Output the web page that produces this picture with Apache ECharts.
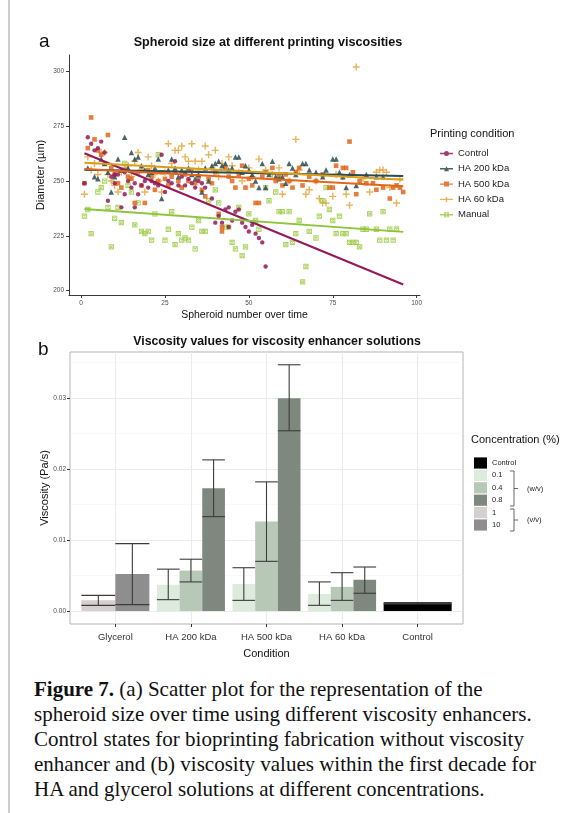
<!DOCTYPE html>
<html>
<head>
<meta charset="utf-8">
<script src="https://cdn.jsdelivr.net/npm/echarts@6.0.0/dist/echarts.min.js"></script>
<style>
  html, body { margin: 0; padding: 0; background: #fff; }
  body { width: 564px; height: 813px; position: relative; overflow: hidden; }
  .edge { position: absolute; left: 8px; top: 0; width: 2px; height: 813px; background: #cdcdcd; }
  #chart { position: absolute; left: 0; top: 0; width: 564px; height: 665px; }
  .caption {
    position: absolute; left: 34px; top: 677px; width: 528px;
    font-family: "Liberation Serif", "DejaVu Serif", serif;
    font-size: 21px; line-height: 25px; color: #111; white-space: nowrap;
  }
</style>
</head>
<body>
<div class="edge"></div>
<div id="chart"></div>
<div class="caption"><b>Figure 7.</b> (a) Scatter plot for the representation of the<br>spheroid size over time using different viscosity enhancers.<br>Control states for bioprinting fabrication without viscosity<br>enhancer and (b) viscosity values within the first decade for<br>HA and glycerol solutions at different concentrations.</div>
<script>
// ---- panel a: spheroid diameter (µm) vs spheroid number ----
const controlPts = [[1,249],[2,270],[3,267],[4,264],[5,265],[6,268],[7,263],[8,241],[9,252],[10,253],[10,249],[11,253],[12,238],[13,254],[13,244],[14,250],[15,247],[16,249],[16,238],[17,244],[18,248],[19,250],[20,247],[21,250],[22,249],[23,248],[24,262],[25,245],[26,250],[27,249],[28,259],[29,248],[30,252],[31,248],[32,251],[33,249],[34,247],[35,250],[36,249],[37,247],[39,242],[40,231],[41,234],[42,231],[43,237],[44,238],[44,229],[45,232],[46,236],[47,237],[48,231],[49,229],[50,227],[51,230],[52,226],[53,224],[54,222],[55,211]]
const ha200Pts = [[2,256],[4,252],[5,251],[6,260],[7,258],[8,254],[9,245],[10,252],[11,260],[12,255],[13,270],[14,256],[15,263],[16,260],[17,261],[18,257],[19,255],[20,253],[21,254],[22,256],[23,260],[24,242],[26,255],[27,260],[28,256],[29,252],[30,255],[31,254],[32,256],[33,253],[34,251],[35,253],[36,245],[37,256],[38,250],[39,257],[40,258],[41,259],[42,257],[43,258],[44,255],[45,256],[46,261],[47,261],[48,254],[49,257],[50,255],[51,253],[52,250],[53,247],[54,258],[55,247],[56,253],[57,259],[58,252],[59,251],[60,252],[61,249],[62,258],[63,256],[64,253],[66,258],[67,258],[68,255],[70,254],[72,252],[73,255],[75,260],[76,260],[77,254],[78,252],[79,247],[80,253],[82,248],[85,253],[88,252],[90,252]]
const ha500Pts = [[1,249],[2,265],[3,279],[4,269],[5,264],[6,262],[7,258],[8,271],[9,256],[10,253],[11,249],[12,247],[13,255],[14,252],[15,251],[16,240],[17,254],[18,248],[19,240],[20,255],[21,252],[22,246],[23,250],[24,254],[25,251],[26,248],[27,252],[28,254],[29,250],[30,247],[31,253],[32,250],[33,255],[34,249],[35,252],[36,246],[37,243],[38,251],[39,249],[40,254],[41,235],[42,227],[42,229],[43,256],[44,252],[45,250],[46,247],[47,253],[48,257],[49,247],[50,251],[51,248],[52,240],[53,240],[54,252],[55,254],[57,256],[58,250],[59,252],[60,248],[61,253],[62,250],[63,247],[64,254],[65,256],[66,248],[68,252],[70,250],[72,253],[74,247],[75,247],[76,257],[78,256],[79,256],[80,268],[81,254],[82,244],[83,250],[85,249],[87,249],[88,246],[90,247],[92,242],[93,247],[94,248],[95,247],[96,245]]
const ha60Pts = [[1,244],[2,261],[3,255],[4,258],[5,253],[6,263],[7,263],[8,253],[9,250],[10,248],[11,245],[12,254],[13,256],[14,257],[15,252],[16,259],[17,263],[18,255],[19,245],[20,261],[21,257],[22,253],[23,250],[24,245],[25,254],[26,267],[27,258],[28,264],[29,264],[30,266],[31,261],[32,259],[33,267],[34,259],[35,255],[36,259],[37,266],[38,262],[39,256],[40,264],[41,252],[42,258],[44,261],[45,257],[47,254],[48,250],[50,256],[51,252],[53,260],[55,255],[57,253],[59,256],[60,244],[62,250],[64,269],[65,255],[67,244],[68,246],[70,250],[71,242],[72,240],[73,240],[75,243],[76,253],[78,252],[79,244],[80,239],[82,302],[84,251],[86,245],[88,254],[89,255],[90,255],[91,254],[92,247],[94,240],[95,251]]
const manualPts = [[1,234],[2,237],[3,226],[5,245],[6,247],[7,250],[8,238],[9,220],[10,233],[11,238],[12,231],[13,258],[14,248],[15,245],[16,230],[17,240],[18,227],[19,226],[20,227],[21,223],[22,235],[23,262],[25,223],[26,228],[27,236],[28,221],[29,226],[30,223],[31,224],[32,223],[33,229],[34,219],[35,232],[36,227],[37,227],[38,241],[40,246],[41,240],[43,229],[44,229],[45,222],[46,219],[47,238],[48,216],[49,220],[50,235],[52,232],[53,228],[55,247],[56,241],[58,245],[59,236],[60,236],[61,221],[62,236],[63,222],[64,226],[65,232],[66,204],[67,211],[68,227],[70,224],[71,234],[72,241],[73,247],[74,237],[75,232],[76,226],[77,234],[78,226],[79,226],[80,222],[81,222],[82,222],[83,220],[84,228],[85,228],[86,235],[88,228],[89,223],[90,236],[91,223],[92,228],[93,223],[94,228]]

// fitted trend lines: values at the first and last spheroid
const fitX = [1, 96]
const fitControl = [262.7, 202.8]
const fitHA200 = [255.2, 252.3]
const fitHA500 = [255.5, 247.6]
const fitHA60 = [258.3, 250.6]
const fitManual = [237.2, 226.8]

const xTicksA = [0, 25, 50, 75, 100]
const yTicksA = [200, 225, 250, 275, 300]

// ---- panel b: viscosity (Pa/s), [condition, mean, lower, upper] ----
const conditions = ['Glycerol', 'HA 200 kDa', 'HA 500 kDa', 'HA 60 kDa', 'Control']
const conc01 = [['HA 200 kDa', 0.0037, 0.0016, 0.0059], ['HA 500 kDa', 0.0038, 0.0015, 0.0061], ['HA 60 kDa', 0.0024, 0.0008, 0.0041]]
const conc04 = [['HA 200 kDa', 0.0057, 0.0041, 0.0073], ['HA 500 kDa', 0.0126, 0.0070, 0.0182], ['HA 60 kDa', 0.0034, 0.0015, 0.0054]]
const conc08 = [['HA 200 kDa', 0.0173, 0.0133, 0.0213], ['HA 500 kDa', 0.0300, 0.0254, 0.0347], ['HA 60 kDa', 0.0044, 0.0025, 0.0062]]
const glyc1 = [['Glycerol', 0.0015, 0.0008, 0.0022]]
const glyc10 = [['Glycerol', 0.0052, 0.0009, 0.0095]]
const ctrlVisc = [['Control', 0.0011, 0.0010, 0.0012]]
const yTicksB = [0, 0.01, 0.02, 0.03]
const yMinorB = [0.005, 0.015, 0.025, 0.035]

const FONT = '"Liberation Sans", Arial, sans-serif'
const C = {
  control: '#931a5b', ha200: '#2b4b50', ha500: '#e0661c', ha60: '#e3a73c', ha60Line: '#d89e1c',
  manual: '#9ccb45', manualLine: '#8cc43a'
}

const plusPath = 'path://M4,0H6V10H4Z M0,4H10V6H0Z'
const boxXPath = 'path://M0,0H10V10H0Z M1.8,1.8V8.2H8.2V1.8Z M1.8,3.2L3.2,1.8L8.2,6.8L6.8,8.2Z M6.8,1.8L8.2,3.2L3.2,8.2L1.8,6.8Z'
const lineSeg = 'M0,3.6H26V6.4H0Z'
const legendIcons = {
  'Control': 'path://' + lineSeg + ' M8,5A5,5 0 1,1 18,5A5,5 0 1,1 8,5Z',
  'HA 200 kDa': 'path://' + lineSeg + ' M13,0L18,10H8Z',
  'HA 500 kDa': 'path://' + lineSeg + ' M8,0H18V10H8Z',
  'HA 60 kDa': 'path://' + lineSeg + ' M11.6,0H14.4V10H11.6Z',
  'Manual': 'path://' + lineSeg + ' M8,0H18V10H8Z M9.6,1.6V8.4H16.4V1.6Z M9.6,2.8L10.8,1.6L16.4,7.2L15.2,8.4Z M15.2,1.6L16.4,2.8L10.8,8.4L9.6,7.2Z'
}

const pointSeries = (name, data, color, symbol, size) => ({
  name, type: 'scatter', xAxisIndex: 0, yAxisIndex: 0, data,
  symbol, symbolSize: size,
  itemStyle: { color, opacity: 0.85 },
  z: 2, silent: true
})
const fitSeries = (name, vals, color, width) => ({
  name, type: 'line', xAxisIndex: 0, yAxisIndex: 0,
  data: [[fitX[0], vals[0]], [fitX[1], vals[1]]],
  showSymbol: false, symbol: 'none',
  lineStyle: { color, width }, z: 3, silent: true
})

// dodged bar with error bar, drawn through the axes
const barSeries = (name, rows, slot, slots, color) => ({
  name, type: 'custom', xAxisIndex: 1, yAxisIndex: 1,
  data: rows.map(r => [conditions.indexOf(r[0]) + 1, r[1], r[2], r[3]]),
  renderItem: (params, api) => {
    const x = api.value(0)
    const band = api.size([0.9, 0])[0]
    const w = band / slots
    const x0 = api.coord([x, 0])[0] - band / 2 + slot * w
    const base = api.coord([x, 0])[1]
    const top = api.coord([x, api.value(1)])[1]
    const lo = api.coord([x, api.value(2)])[1]
    const hi = api.coord([x, api.value(3)])[1]
    const mid = x0 + w / 2
    const es = { stroke: '#3c3c3c', lineWidth: 1.1 }
    return {
      type: 'group',
      children: [
        { type: 'rect', shape: { x: x0, y: top, width: w, height: base - top }, style: { fill: color } },
        { type: 'line', shape: { x1: mid, y1: lo, x2: mid, y2: hi }, style: es },
        { type: 'line', shape: { x1: x0, y1: lo, x2: x0 + w, y2: lo }, style: es },
        { type: 'line', shape: { x1: x0, y1: hi, x2: x0 + w, y2: hi }, style: es }
      ]
    }
  },
  z: 2, silent: true
})

const legendB = [
  ['Control', '#000000'], ['0.1', '#dcebdb'], ['0.4', '#b8c8b7'], ['0.8', '#7e887f'], ['1', '#d6cfcf'], ['10', '#8e8e8e']
]

const graphics = [
  { type: 'text', left: 39, top: 32, style: { text: 'a', font: '19px ' + FONT, fill: '#111' } },
  { type: 'text', x: 268, y: 43, style: { text: 'Spheroid size at different printing viscosities', font: 'bold 12.6px ' + FONT, fill: '#111', align: 'center', verticalAlign: 'middle' } },
  { type: 'text', x: 430, y: 134, style: { text: 'Printing condition', font: '11px ' + FONT, fill: '#111', verticalAlign: 'middle' } },
  { type: 'text', left: 38, top: 340, style: { text: 'b', font: '19px ' + FONT, fill: '#111' } },
  { type: 'text', x: 277, y: 342, style: { text: 'Viscosity values for viscosity enhancer solutions', font: 'bold 12.3px ' + FONT, fill: '#111', align: 'center', verticalAlign: 'middle' } },
  { type: 'text', x: 471, y: 440, style: { text: 'Concentration (%)', font: '11px ' + FONT, fill: '#111', verticalAlign: 'middle' } }
]
legendB.forEach((d, i) => {
  const cy = 463 + i * 12.4
  graphics.push({ type: 'rect', shape: { x: 474, y: cy - 5.6, width: 13, height: 11.2 }, style: { fill: d[1] } })
  graphics.push({ type: 'text', x: 492, y: cy, style: { text: d[0], font: '7.5px ' + FONT, fill: '#222', verticalAlign: 'middle' } })
})
const bracket = (y1, y2, label) => {
  const ym = (y1 + y2) / 2
  const ls = { stroke: '#444', lineWidth: 0.8 }
  graphics.push({ type: 'polyline', shape: { points: [[510, y1], [514, y1], [514, y2], [510, y2]] }, style: ls })
  graphics.push({ type: 'line', shape: { x1: 514, y1: ym, x2: 518, y2: ym }, style: ls })
  graphics.push({ type: 'text', x: 527, y: ym, style: { text: label, font: '7.5px ' + FONT, fill: '#222', verticalAlign: 'middle' } })
}
bracket(471, 506, '(w/v)')
bracket(509, 531, '(v/v)')

const tickLabel = { fontSize: 6.5, color: '#4d4d4d', fontFamily: FONT }

const option = {
  animation: false,
  textStyle: { fontFamily: FONT },
  grid: [
    { left: 69, top: 55, width: 351, height: 240 },
    { left: 70, top: 352, width: 393, height: 272, show: true, borderColor: '#b3b3b3', borderWidth: 1 }
  ],
  xAxis: [
    {
      type: 'value', gridIndex: 0, min: -3.6, max: 101,
      axisLine: { show: true, onZero: false, lineStyle: { color: '#3a3a3a', width: 1 } },
      axisTick: { show: true, length: 3, customValues: xTicksA, lineStyle: { color: '#3a3a3a' } },
      axisLabel: { customValues: xTicksA, margin: 5, ...tickLabel },
      splitLine: { show: false },
      name: 'Spheroid number over time', nameLocation: 'middle', nameGap: 15,
      nameTextStyle: { fontSize: 10.5, color: '#111' }
    },
    {
      type: 'value', gridIndex: 1, min: 0.4, max: 5.6,
      axisLine: { show: false, onZero: false },
      axisTick: { show: true, length: 3, customValues: [1, 2, 3, 4, 5], lineStyle: { color: '#333' } },
      axisLabel: { customValues: [1, 2, 3, 4, 5], margin: 8, formatter: v => conditions[Math.round(v) - 1], fontSize: 9.5, color: '#333', fontFamily: FONT },
      splitLine: { show: true, lineStyle: { color: '#ebebeb', width: 1 } },
      name: 'Condition', nameLocation: 'middle', nameGap: 24,
      nameTextStyle: { fontSize: 11, color: '#111' }
    }
  ],
  yAxis: [
    {
      type: 'value', gridIndex: 0, min: 198, max: 307.5,
      axisLine: { show: true, onZero: false, lineStyle: { color: '#3a3a3a', width: 1 } },
      axisTick: { show: true, length: 3, customValues: yTicksA, lineStyle: { color: '#3a3a3a' } },
      axisLabel: { customValues: yTicksA, margin: 5, ...tickLabel },
      splitLine: { show: false },
      name: 'Diameter (µm)', nameLocation: 'middle', nameGap: 23, nameMoveOverlap: false,
      nameTextStyle: { fontSize: 11, color: '#111' }
    },
    {
      type: 'value', gridIndex: 1, min: -0.00183, max: 0.0365,
      axisLine: { show: false, onZero: false },
      axisTick: { show: true, length: 3, customValues: yTicksB, lineStyle: { color: '#333' } },
      axisLabel: { customValues: yTicksB, margin: 4, formatter: v => v.toFixed(2), ...tickLabel },
      splitLine: { show: true, lineStyle: { color: '#ebebeb', width: 1 } },
      name: 'Viscosity (Pa/s)', nameLocation: 'middle', nameGap: 20, nameMoveOverlap: false,
      nameTextStyle: { fontSize: 11, color: '#111' }
    },
    {
      type: 'value', gridIndex: 1, min: -0.00183, max: 0.0365, position: 'left',
      axisLine: { show: false }, axisLabel: { show: false },
      axisTick: { show: false, customValues: yMinorB },
      splitLine: { show: true, lineStyle: { color: '#f5f5f5', width: 0.7 } }
    }
  ],
  legend: {
    data: ['Control', 'HA 200 kDa', 'HA 500 kDa', 'HA 60 kDa', 'Manual'].map(n => ({ name: n, icon: legendIcons[n] })),
    orient: 'vertical', left: 435, top: 143,
    itemWidth: 13, itemHeight: 5, itemGap: 4.3,
    textStyle: { fontSize: 9.5, color: '#222', lineHeight: 11 },
    selectedMode: false
  },
  graphic: graphics,
  series: [
    pointSeries('HA 60 kDa', ha60Pts, C.ha60, plusPath, 7),
    pointSeries('Manual', manualPts, C.manual, boxXPath, 5.3),
    pointSeries('HA 500 kDa', ha500Pts, C.ha500, 'rect', 4.6),
    pointSeries('HA 200 kDa', ha200Pts, C.ha200, 'triangle', 5.5),
    pointSeries('Control', controlPts, C.control, 'circle', 4.4),
    fitSeries('fit control', fitControl, C.control, 2.2),
    fitSeries('fit ha200', fitHA200, C.ha200, 2),
    fitSeries('fit ha500', fitHA500, C.ha500, 2),
    fitSeries('fit ha60', fitHA60, C.ha60Line, 2),
    fitSeries('fit manual', fitManual, C.manualLine, 2),
    barSeries('1', glyc1, 0, 2, '#d6cfcf'),
    barSeries('10', glyc10, 1, 2, '#8e8e8e'),
    barSeries('0.1', conc01, 0, 3, '#dcebdb'),
    barSeries('0.4', conc04, 1, 3, '#b8c8b7'),
    barSeries('0.8', conc08, 2, 3, '#7e887f'),
    barSeries('Control visc', ctrlVisc, 0, 1, '#000000')
  ]
}

const myChart = echarts.init(document.getElementById('chart'))
option && myChart.setOption(option)
window.addEventListener('resize', () => {
  myChart.resize()
})
</script>
</body>
</html>
